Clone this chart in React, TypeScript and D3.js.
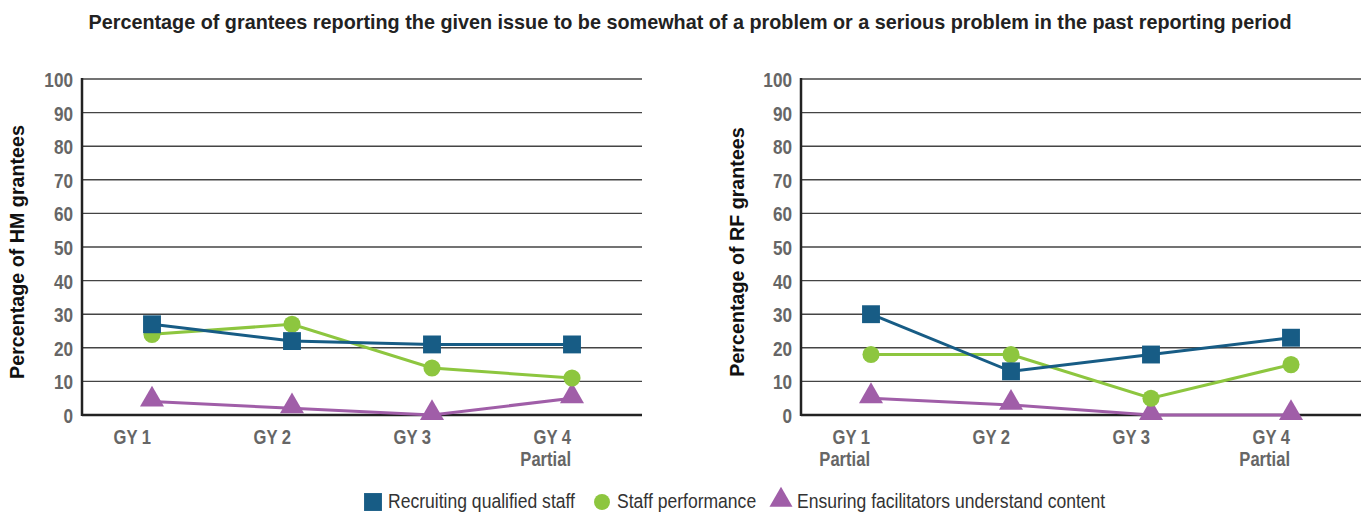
import React, { useEffect, useRef } from "react";
import * as d3 from "d3";

const categories = ["GY 1", "GY 2", "GY 3", "GY 4"];
const hmSubLabels = ["", "", "", "Partial"];
const rfSubLabels = ["Partial", "", "", "Partial"];

const seriesNames = [
  "Recruiting qualified staff",
  "Staff performance",
  "Ensuring facilitators understand content",
];

// HM grantees
const hmRecruiting = [27, 22, 21, 21];
const hmPerformance = [24, 27, 14, 11];
const hmEnsuring = [4, 2, 0, 5];

// RF grantees
const rfRecruiting = [30, 13, 18, 23];
const rfPerformance = [18, 18, 5, 15];
const rfEnsuring = [5, 3, 0, 0];

const yTicks = [0, 10, 20, 30, 40, 50, 60, 70, 80, 90, 100];

const colors = ["#175c85", "#8dc63f", "#a05ea8"];
const shapes = [d3.symbolSquare, d3.symbolCircle, d3.symbolTriangle];
const shapeSizes = [320, 230, 250];

const FONT = "'Liberation Sans', Arial, sans-serif";

// text with a horizontal squeeze, to stand in for a narrow font
const addText = (
  g: any,
  x: number,
  y: number,
  str: string,
  o: { size: number; weight?: string; fill: string; anchor?: string; sx?: number; rotate?: number }
) =>
  g
    .append("text")
    .attr(
      "transform",
      `translate(${x}, ${y}) rotate(${o.rotate || 0}) scale(${o.sx || 1}, 1)`
    )
    .attr("text-anchor", o.anchor || "start")
    .attr("font-family", FONT)
    .attr("font-weight", o.weight || "normal")
    .attr("font-size", o.size)
    .attr("fill", o.fill)
    .text(str);

const App = () => {
  const ref = useRef<SVGSVGElement>(null);

  useEffect(() => {
    const width = 1364;
    const height = 514;
    const svg = d3.select(ref.current).attr("width", width).attr("height", height);
    svg.selectAll("*").remove();

    addText(
      svg,
      690,
      29,
      "Percentage of grantees reporting the given issue to be somewhat of a problem or a serious problem in the past reporting period",
      { size: 20, weight: "bold", fill: "#222", anchor: "middle", sx: 0.99 }
    );

    const y = d3.scaleLinear().domain([0, 100]).range([415, 79]);

    const panels = [
      {
        axisX: 82,
        title: "Percentage of HM grantees",
        titleX: 24,
        sub: hmSubLabels,
        data: [hmRecruiting, hmPerformance, hmEnsuring],
      },
      {
        axisX: 801,
        title: "Percentage of RF grantees",
        titleX: 744,
        sub: rfSubLabels,
        data: [rfRecruiting, rfPerformance, rfEnsuring],
      },
    ];

    panels.forEach((p) => {
      const g = svg.append("g");
      const x = d3
        .scaleBand<string>()
        .domain(categories)
        .range([p.axisX, p.axisX + 560]);
      const endX = p.axisX + 560;

      // gridlines
      g.selectAll(".grid")
        .data(yTicks.filter((t) => t > 0))
        .enter()
        .append("line")
        .attr("x1", p.axisX)
        .attr("x2", endX)
        .attr("y1", (d) => y(d))
        .attr("y2", (d) => y(d))
        .attr("stroke", "#444")
        .attr("stroke-width", 1.4);

      // y tick labels
      yTicks.forEach((t) =>
        addText(g, p.axisX - 9, y(t) + 8, String(t), {
          size: 19.5,
          weight: "bold",
          fill: "#666",
          anchor: "end",
          sx: 0.88,
        })
      );

      // axes
      g.append("line")
        .attr("x1", p.axisX)
        .attr("x2", p.axisX)
        .attr("y1", y(100) - 1)
        .attr("y2", y(0) + 1)
        .attr("stroke", "#222")
        .attr("stroke-width", 2.5);
      g.append("line")
        .attr("x1", p.axisX)
        .attr("x2", endX)
        .attr("y1", y(0))
        .attr("y2", y(0))
        .attr("stroke", "#222")
        .attr("stroke-width", 2.5);

      // x labels, right-aligned on the point
      const cx = (c: string) => (x(c) as number) + x.bandwidth() / 2;
      categories.forEach((c, i) => {
        addText(g, cx(c) - 1, 444, c, {
          size: 19.5,
          weight: "bold",
          fill: "#666",
          anchor: "end",
          sx: 0.85,
        });
        if (p.sub[i])
          addText(g, cx(c) - 1, 466, p.sub[i], {
            size: 19.5,
            weight: "bold",
            fill: "#666",
            anchor: "end",
            sx: 0.85,
          });
      });

      // y axis title
      addText(g, p.titleX, 252, p.title, {
        size: 19.7,
        weight: "bold",
        fill: "#111",
        anchor: "middle",
        rotate: -90,
      });

      // series: purple, green, then blue on top
      [2, 1, 0].forEach((si) => {
        const vals = p.data[si];
        const line = d3
          .line<number>()
          .x((d, i) => cx(categories[i]))
          .y((d) => y(d));
        g.append("path")
          .attr("d", line(vals))
          .attr("fill", "none")
          .attr("stroke", colors[si])
          .attr("stroke-width", 3);
        g.selectAll(".m" + si)
          .data(vals)
          .enter()
          .append("path")
          .attr("d", d3.symbol().type(shapes[si]).size(shapeSizes[si])())
          .attr(
            "transform",
            (d, i) => `translate(${cx(categories[i])}, ${y(d) + (si === 2 ? -2 : 0)})`
          )
          .attr("fill", colors[si]);
      });
    });

    // legend
    const legendItems = [
      { x: 373, textX: 388 },
      { x: 602, textX: 617 },
      { x: 781, textX: 797 },
    ];
    const lg = svg.append("g");
    seriesNames.forEach((name, i) => {
      lg.append("path")
        .attr("d", d3.symbol().type(shapes[i]).size([320, 200, 230][i])())
        .attr("transform", `translate(${legendItems[i].x}, ${i === 2 ? 500 : 502})`)
        .attr("fill", colors[i]);
      addText(lg, legendItems[i].textX, 508, name, {
        size: 19.5,
        fill: "#333",
        sx: 0.9,
      });
    });

    return () => {
      svg.selectAll("*").remove();
    };
  }, []);

  return (
    <svg
      ref={ref}
      style={{ position: "absolute", left: 0, top: 0, display: "block" }}
    ></svg>
  );
};

export default App;
